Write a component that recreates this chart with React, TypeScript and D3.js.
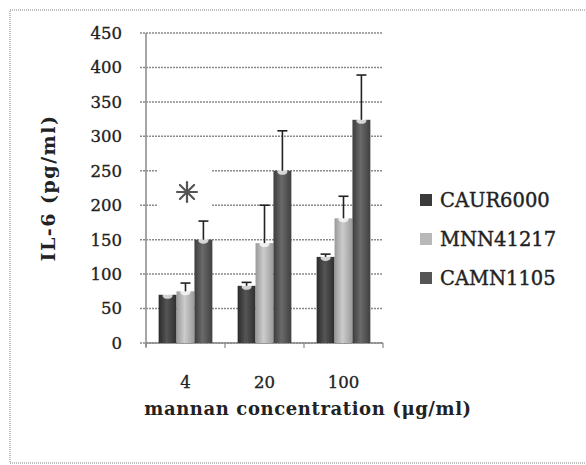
import React from 'react';
import * as d3 from 'd3';

const doses = ['4', '20', '100'];
const strains = ['CAUR6000', 'MNN41217', 'CAMN1105'];
const caur6000 = [70, 83, 125];
const mnn41217 = [75, 145, 181];
const camn1105 = [150, 250, 324];
const caur6000Err = [0, 5, 4];
const mnn41217Err = [12, 55, 32];
const camn1105Err = [27, 58, 65];
const yTicks = [0, 50, 100, 150, 200, 250, 300, 350, 400, 450];

const values = [caur6000, mnn41217, camn1105];
const errors = [caur6000Err, mnn41217Err, camn1105Err];
const fills = ['url(#g0)', 'url(#g1)', 'url(#g2)'];
const swatch = ['#3a3a3a', '#b8b8b8', '#555555'];

const font = '"DejaVu Serif", serif';

export default function App() {
  const margin = { left: 146, top: 33, right: 383, bottom: 343 };

  const x = d3.scaleBand().domain(doses).range([margin.left, margin.right]).paddingInner(0.32).paddingOuter(0.16);
  const xs = d3.scaleBand().domain(strains).range([0, x.bandwidth()]);
  const y = d3.scaleLinear().domain([0, 450]).range([margin.bottom, margin.top]);

  const step = (margin.right - margin.left) / doses.length;

  // snowflake-like asterisk
  const star = { cx: 187, cy: 192, r: 10 };
  const spokes = d3.range(4).map(k => (k * Math.PI) / 4);

  return (
    <svg width={586} height={465} style={{ position: 'absolute', left: 0, top: 0, background: '#fff' }}>
      <defs>
        <linearGradient id="g0" x1="0" x2="1">
          <stop offset="0" stopColor="#2a2a2a" />
          <stop offset="0.45" stopColor="#555" />
          <stop offset="1" stopColor="#2e2e2e" />
        </linearGradient>
        <linearGradient id="g1" x1="0" x2="1">
          <stop offset="0" stopColor="#999" />
          <stop offset="0.45" stopColor="#ccc" />
          <stop offset="1" stopColor="#9a9a9a" />
        </linearGradient>
        <linearGradient id="g2" x1="0" x2="1">
          <stop offset="0" stopColor="#3c3c3c" />
          <stop offset="0.45" stopColor="#6a6a6a" />
          <stop offset="1" stopColor="#404040" />
        </linearGradient>
      </defs>

      {/* outer frame */}
      <rect x={10} y={10} width={600} height={453} fill="none" stroke="#aaa" strokeWidth={1.5} strokeDasharray="1 1" />

      {/* gridlines */}
      {yTicks.map(t => (
        <g key={t}>
          <line x1={margin.left - 6} x2={margin.right} y1={y(t)} y2={y(t)} stroke="#8a8a8a" strokeWidth={1.5} strokeDasharray="2 1" />
          <text x={122} y={y(t)} dy="0.36em" textAnchor="end" fontFamily={font} fontSize={16.5} fill="#222" stroke="#222" strokeWidth={0.35}>{t}</text>
        </g>
      ))}

      {/* asterisk with its white box */}
      <rect x={157} y={166} width={55} height={50} fill="#fff" />
      <g stroke="#555" strokeWidth={2.2} strokeLinecap="round">
        {spokes.map((a, k) => (
          <line key={k}
            x1={star.cx - star.r * Math.cos(a)} y1={star.cy - star.r * Math.sin(a)}
            x2={star.cx + star.r * Math.cos(a)} y2={star.cy + star.r * Math.sin(a)} />
        ))}
      </g>

      {/* axes */}
      <line x1={margin.left} x2={margin.left} y1={margin.top} y2={margin.bottom + 4} stroke="#888" strokeWidth={1.5} />
      <line x1={margin.left} x2={margin.right} y1={margin.bottom} y2={margin.bottom} stroke="#888" strokeWidth={1.5} />
      {d3.range(doses.length + 1).map(i => (
        <line key={i} x1={margin.left + i * step} x2={margin.left + i * step} y1={margin.bottom} y2={margin.bottom + 5} stroke="#888" strokeWidth={1.2} />
      ))}

      {/* bars */}
      {doses.map((d, i) => (
        <g key={d}>
          {strains.map((s, j) => {
            const bx = (x(d) as number) + (xs(s) as number);
            const bw = xs.bandwidth();
            const v = values[j][i];
            const e = errors[j][i];
            const cx = bx + bw / 2;
            return (
              <g key={s}>
                <rect x={bx} y={y(v)} width={bw} height={y(0) - y(v)} fill={fills[j]} />
                <ellipse cx={cx} cy={y(v) + 1} rx={bw * 0.28} ry={3} fill="#fff" opacity={0.75} />
                {e > 0 && (
                  <g stroke="#222" strokeWidth={1.6}>
                    <line x1={cx} x2={cx} y1={y(v)} y2={y(v + e)} />
                    <line x1={cx - 5} x2={cx + 5} y1={y(v + e)} y2={y(v + e)} />
                  </g>
                )}
              </g>
            );
          })}
          <text x={(x(d) as number) + x.bandwidth() / 2} y={388} textAnchor="middle" fontFamily={font} fontSize={16.5} fill="#222" stroke="#222" strokeWidth={0.35}>{d}</text>
        </g>
      ))}

      {/* axis titles */}
      <text transform={`translate(55,188) rotate(-90)`} textAnchor="middle" fontFamily={font} fontWeight="bold" fontSize={19} letterSpacing={1.5} fill="#222">IL-6 (pg/ml)</text>
      <text x={308} y={415} textAnchor="middle" fontFamily={font} fontWeight="bold" fontSize={18} letterSpacing={0.6} fill="#222">mannan concentration (μg/ml)</text>

      {/* legend */}
      {strains.map((s, j) => (
        <g key={s} transform={`translate(420,${200 + j * 39})`}>
          <rect x={0} y={-6} width={12} height={12} fill={swatch[j]} />
          <text x={20} y={0} dy="0.36em" fontFamily={font} fontSize={19.5} fill="#222" stroke="#222" strokeWidth={0.4}>{s}</text>
        </g>
      ))}
    </svg>
  );
}
